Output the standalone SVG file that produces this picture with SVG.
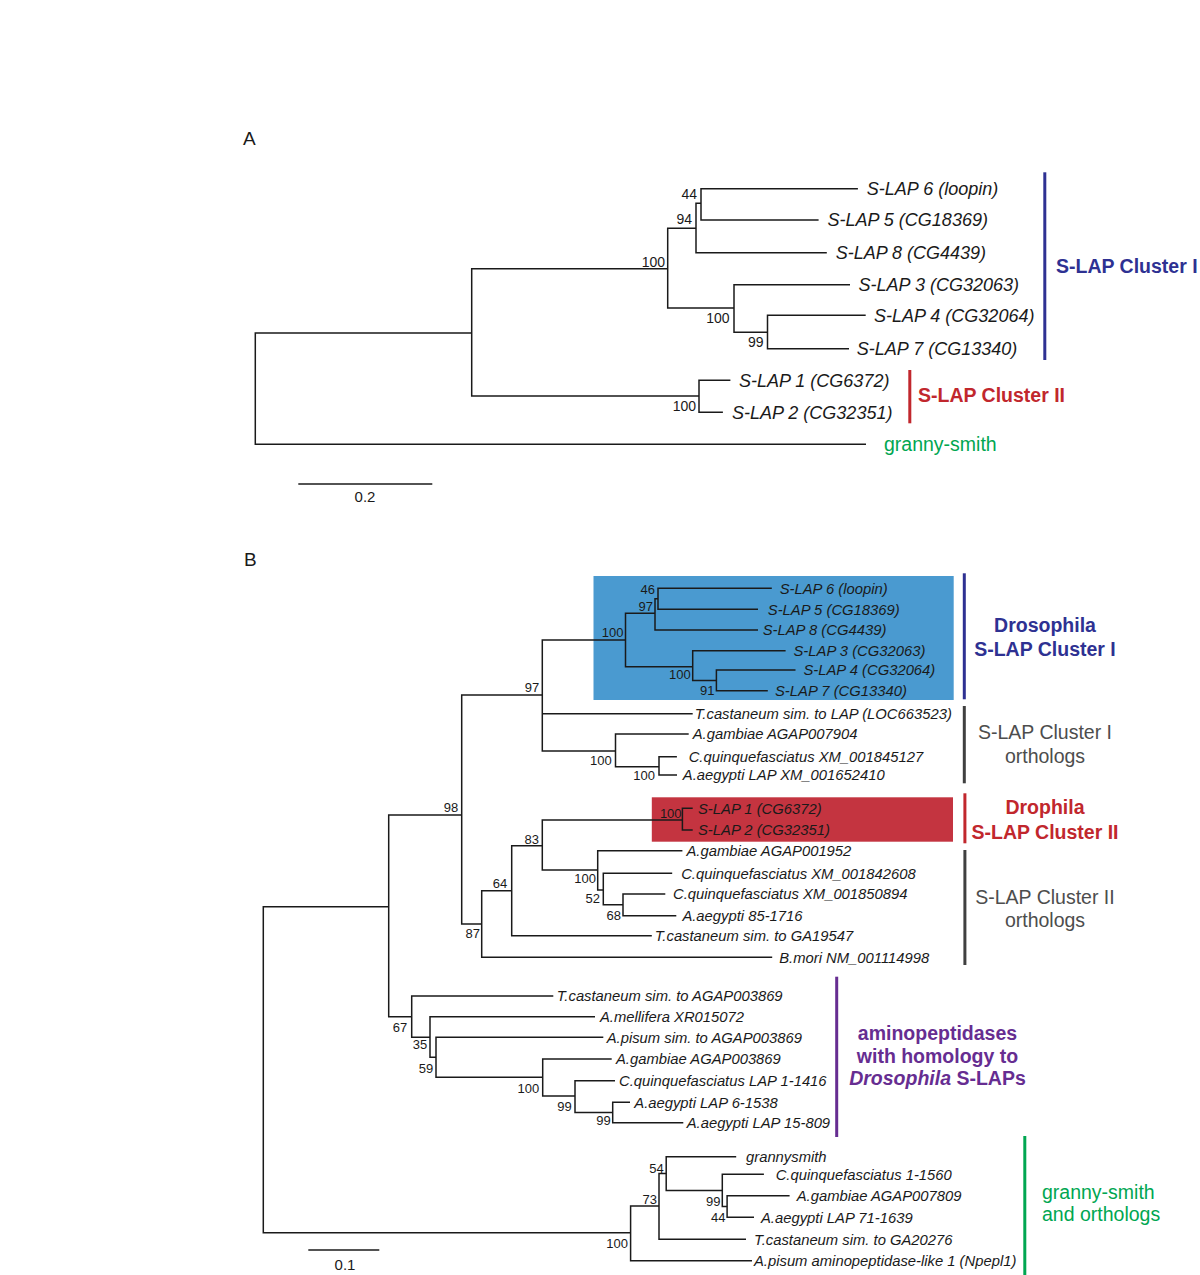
<svg xmlns="http://www.w3.org/2000/svg" width="1200" height="1275" viewBox="0 0 1200 1275">
<style>
text{font-family:"Liberation Sans",Arial,sans-serif;fill:#1a1a1a}
.br{fill:none;stroke:#1a1a1a;stroke-width:1.5}
.la{font-size:18px;font-style:italic}
.lb{font-size:14.8px;font-style:italic}
.ba{font-size:14px;text-anchor:end}
.bb{font-size:13px;text-anchor:end}
.cl{font-size:19.5px;font-weight:bold}
.cr{font-size:19.5px}
.mid{text-anchor:middle}
.blue{fill:#2e3192}
.red{fill:#c1272d}
.green{fill:#00a651}
.gray{fill:#4d4d4d}
.purple{fill:#662d91}
.panel{font-size:19px}
</style>

<text class="panel" x="243" y="145">A</text>
<text class="panel" x="244" y="566">B</text>

<g id="highlights">
<rect x="593.5" y="576" width="360.2" height="124" fill="#4a9ad0"/>
<rect x="651.8" y="797.3" width="301.2" height="44.4" fill="#c43440"/>
</g>

<g id="connectors">
<path class="br" d="M471.7,333 H255.3 V444.3 H866"/>
<path class="br" d="M667.7,268.7 H471.7 V396 H699"/>
<path class="br" d="M696,228.3 H667.7 V308 H734"/>
<path class="br" d="M701,203.3 H696 V252.7 H826.8"/>
<path class="br" d="M857.9,188.7 H701 V220 H818.6"/>
<path class="br" d="M850,284.7 H734 V332.3 H767.5"/>
<path class="br" d="M865.7,315.3 H767.5 V348.7 H849"/>
<path class="br" d="M730.4,380.3 H699 V412.3 H722.9"/>

<path class="br" d="M388.7,906.7 H263.3 V1232.7 H630.6"/>
<path class="br" d="M461.7,815 H388.7 V1016.7 H411.7"/>
<path class="br" d="M542.3,695 H461.7 V924 H481.7"/>
<path class="br" d="M625.5,640 H542.3 V751 H615.5 M542.3,713.7 H692.7"/>
<path class="br" d="M655,613.3 H625.5 V666.7 H692.7"/>
<path class="br" d="M658,598.8 H655 V630 H758"/>
<path class="br" d="M771.8,588.3 H658 V609.3 H758"/>
<path class="br" d="M785.6,650.7 H692.7 V680.4 H716.4"/>
<path class="br" d="M795.5,670 H716.4 V690.7 H767.8"/>
<path class="br" d="M688.7,734 H615.5 V766.7 H659"/>
<path class="br" d="M676.9,756.7 H659 V775 H677"/>
<path class="br" d="M511.7,890.7 H481.7 V957.3 H772.2"/>
<path class="br" d="M542.3,845.7 H511.7 V935.7 H651.8"/>
<path class="br" d="M682.4,820 H542.3 V870 H597.7"/>
<path class="br" d="M692.7,808.3 H682.4 V830 H692.7"/>
<path class="br" d="M682.4,850.7 H597.7 V890 H603.3"/>
<path class="br" d="M672.2,873.3 H603.3 V904.8 H623"/>
<path class="br" d="M665.3,894 H623 V915.7 H676.3"/>
<path class="br" d="M553.3,996 H411.7 V1037.3 H430"/>
<path class="br" d="M595,1016.7 H430 V1057.3 H436"/>
<path class="br" d="M603.3,1037.3 H436 V1077.3 H542.7"/>
<path class="br" d="M611.7,1059 H542.7 V1096 H575"/>
<path class="br" d="M615,1080.7 H575 V1112.5 H612.7"/>
<path class="br" d="M630,1102.3 H612.7 V1122.7 H683.3"/>
<path class="br" d="M659,1206 H630.6 V1260.7 H752"/>
<path class="br" d="M666.2,1173.5 H659 V1239.3 H746"/>
<path class="br" d="M736.2,1156.7 H666.2 V1190.4 H722.3"/>
<path class="br" d="M763.9,1174.3 H722.3 V1206.5 H727.1"/>
<path class="br" d="M789.6,1195.7 H727.1 V1217.3 H754"/>

<path class="br" d="M298.3,484 H432.3"/>
<path class="br" d="M308.3,1250 H379.3"/>
</g>

<g id="scales">
<text class="mid" x="365" y="501.5" font-size="15">0.2</text>
<text class="mid" x="345" y="1270" font-size="15">0.1</text>
</g>

<g id="treeA-leaves">
<g id="a-slap6"><text class="la" x="866.8" y="195">S-LAP 6 (loopin)</text></g>
<g id="a-slap5"><text class="la" x="827.5" y="226.3">S-LAP 5 (CG18369)</text></g>
<g id="a-slap8"><text class="la" x="835.7" y="259">S-LAP 8 (CG4439)</text></g>
<g id="a-slap3"><text class="la" x="858.6" y="291">S-LAP 3 (CG32063)</text></g>
<g id="a-slap4"><text class="la" x="874" y="321.6">S-LAP 4 (CG32064)</text></g>
<g id="a-slap7"><text class="la" x="856.8" y="355">S-LAP 7 (CG13340)</text></g>
<g id="a-slap1"><text class="la" x="739" y="386.6">S-LAP 1 (CG6372)</text></g>
<g id="a-slap2"><text class="la" x="732" y="418.6">S-LAP 2 (CG32351)</text></g>
<g id="a-gs"><text class="cr green" x="884" y="450.6">granny-smith</text></g>
</g>

<g id="treeA-support">
<text class="ba" x="697" y="199">44</text>
<text class="ba" x="692" y="224">94</text>
<text class="ba" x="665" y="266.5">100</text>
<text class="ba" x="729.5" y="322.7">100</text>
<text class="ba" x="763.5" y="347.3">99</text>
<text class="ba" x="696" y="410.7">100</text>
</g>

<g id="treeA-clusters">
<g id="a-cluster1"><rect x="1043.3" y="172.3" width="3" height="187.7" fill="#2e3192"/><text class="cl blue" x="1056" y="273">S-LAP Cluster I</text></g>
<g id="a-cluster2"><rect x="908.3" y="370" width="3" height="53.3" fill="#c1272d"/><text class="cl red" x="918" y="402">S-LAP Cluster II</text></g>
</g>

<g id="treeB-leaves">
<g id="b-slap6"><text class="lb" x="779.7" y="593.5">S-LAP 6 (loopin)</text></g>
<g id="b-slap5"><text class="lb" x="767.8" y="614.5">S-LAP 5 (CG18369)</text></g>
<g id="b-slap8"><text class="lb" x="762.7" y="635.2">S-LAP 8 (CG4439)</text></g>
<g id="b-slap3"><text class="lb" x="793.5" y="655.9">S-LAP 3 (CG32063)</text></g>
<g id="b-slap4"><text class="lb" x="803.4" y="675.2">S-LAP 4 (CG32064)</text></g>
<g id="b-slap7"><text class="lb" x="775" y="695.9">S-LAP 7 (CG13340)</text></g>
<g id="b-tc-lap"><text class="lb" x="694.7" y="718.9">T.castaneum sim. to LAP (LOC663523)</text></g>
<g id="b-ag-7904"><text class="lb" x="692.7" y="739.2">A.gambiae AGAP007904</text></g>
<g id="b-cq-5127"><text class="lb" x="688.7" y="761.9">C.quinquefasciatus XM_001845127</text></g>
<g id="b-aa-2410"><text class="lb" x="682.8" y="780.2">A.aegypti LAP XM_001652410</text></g>
<g id="b-slap1"><text class="lb" x="698" y="813.5">S-LAP 1 (CG6372)</text></g>
<g id="b-slap2"><text class="lb" x="698" y="835.2">S-LAP 2 (CG32351)</text></g>
<g id="b-ag-1952"><text class="lb" x="686.5" y="855.9">A.gambiae AGAP001952</text></g>
<g id="b-cq-2608"><text class="lb" x="681.2" y="878.5">C.quinquefasciatus XM_001842608</text></g>
<g id="b-cq-0894"><text class="lb" x="673" y="899.2">C.quinquefasciatus XM_001850894</text></g>
<g id="b-aa-1716"><text class="lb" x="682.4" y="920.9">A.aegypti 85-1716</text></g>
<g id="b-tc-19547"><text class="lb" x="654.7" y="940.9">T.castaneum sim. to GA19547</text></g>
<g id="b-bm"><text class="lb" x="779.2" y="962.5">B.mori NM_001114998</text></g>
<g id="b-tc-3869"><text class="lb" x="556.7" y="1001.2">T.castaneum sim. to AGAP003869</text></g>
<g id="b-am"><text class="lb" x="600" y="1021.9">A.mellifera XR015072</text></g>
<g id="b-ap-3869"><text class="lb" x="606.7" y="1042.5">A.pisum sim. to AGAP003869</text></g>
<g id="b-ag-3869"><text class="lb" x="616" y="1064.2">A.gambiae AGAP003869</text></g>
<g id="b-cq-1416"><text class="lb" x="619" y="1085.9">C.quinquefasciatus LAP 1-1416</text></g>
<g id="b-aa-1538"><text class="lb" x="634.3" y="1107.5">A.aegypti LAP 6-1538</text></g>
<g id="b-aa-809"><text class="lb" x="686.7" y="1127.9">A.aegypti LAP 15-809</text></g>
<g id="b-gs"><text class="lb" x="746" y="1161.9">grannysmith</text></g>
<g id="b-cq-1560"><text class="lb" x="775.7" y="1179.5">C.quinquefasciatus 1-1560</text></g>
<g id="b-ag-7809"><text class="lb" x="796.7" y="1200.9">A.gambiae AGAP007809</text></g>
<g id="b-aa-1639"><text class="lb" x="761" y="1222.5">A.aegypti LAP 71-1639</text></g>
<g id="b-tc-20276"><text class="lb" x="754" y="1244.5">T.castaneum sim. to GA20276</text></g>
<g id="b-ap-npepl1"><text class="lb" x="754" y="1265.9">A.pisum aminopeptidase-like 1 (Npepl1)</text></g>
</g>

<g id="treeB-support">
<text class="bb" x="655" y="594">46</text>
<text class="bb" x="653" y="610.7">97</text>
<text class="bb" x="623.5" y="637.3">100</text>
<text class="bb" x="690.7" y="679">100</text>
<text class="bb" x="714.4" y="695">91</text>
<text class="bb" x="539.3" y="692.3">97</text>
<text class="bb" x="611.7" y="765">100</text>
<text class="bb" x="655" y="780">100</text>
<text class="bb" x="681.6" y="818.3">100</text>
<text class="bb" x="458.3" y="812.3">98</text>
<text class="bb" x="539" y="844">83</text>
<text class="bb" x="596" y="883.3">100</text>
<text class="bb" x="600" y="903.3">52</text>
<text class="bb" x="621" y="920">68</text>
<text class="bb" x="507.3" y="887.7">64</text>
<text class="bb" x="480" y="938.3">87</text>
<text class="bb" x="407.3" y="1031.7">67</text>
<text class="bb" x="427.3" y="1049.3">35</text>
<text class="bb" x="433.3" y="1072.7">59</text>
<text class="bb" x="539.3" y="1092.7">100</text>
<text class="bb" x="571.7" y="1110.7">99</text>
<text class="bb" x="610.7" y="1125">99</text>
<text class="bb" x="628" y="1248">100</text>
<text class="bb" x="657" y="1204">73</text>
<text class="bb" x="663.8" y="1172.7">54</text>
<text class="bb" x="720.4" y="1206">99</text>
<text class="bb" x="725.5" y="1221.7">44</text>
</g>

<g id="treeB-clusters">
<g id="b-cluster1"><rect x="962.8" y="573.3" width="3" height="126" fill="#2e3192"/><text class="cl blue mid" x="1045" y="632">Drosophila</text><text class="cl blue mid" x="1045" y="656.3">S-LAP Cluster I</text></g>
<g id="b-cluster1-orth"><rect x="962.8" y="706" width="3" height="77.3" fill="#404040"/><text class="cr gray mid" x="1045" y="738.7">S-LAP Cluster I</text><text class="cr gray mid" x="1045" y="762.7">orthologs</text></g>
<g id="b-cluster2"><rect x="963.4" y="793.3" width="3" height="50" fill="#c1272d"/><text class="cl red mid" x="1045" y="814.3">Drophila</text><text class="cl red mid" x="1045" y="838.7">S-LAP Cluster II</text></g>
<g id="b-cluster2-orth"><rect x="963.4" y="850" width="3" height="115" fill="#404040"/><text class="cr gray mid" x="1045" y="903.7">S-LAP Cluster II</text><text class="cr gray mid" x="1045" y="927">orthologs</text></g>
<g id="b-amino"><rect x="835.2" y="976.7" width="3" height="160.3" fill="#662d91"/><text class="cl purple mid" x="937.5" y="1039.5">aminopeptidases</text><text class="cl purple mid" x="937.5" y="1062.5">with homology to</text><text class="cl purple mid" x="937.5" y="1085.3"><tspan font-style="italic">Drosophila</tspan> S-LAPs</text></g>
<g id="b-granny"><rect x="1023.3" y="1136" width="3" height="139" fill="#00a651"/><text class="cr green" x="1042" y="1198.7">granny-smith</text><text class="cr green" x="1042" y="1221.3">and orthologs</text></g>
</g>
</svg>
